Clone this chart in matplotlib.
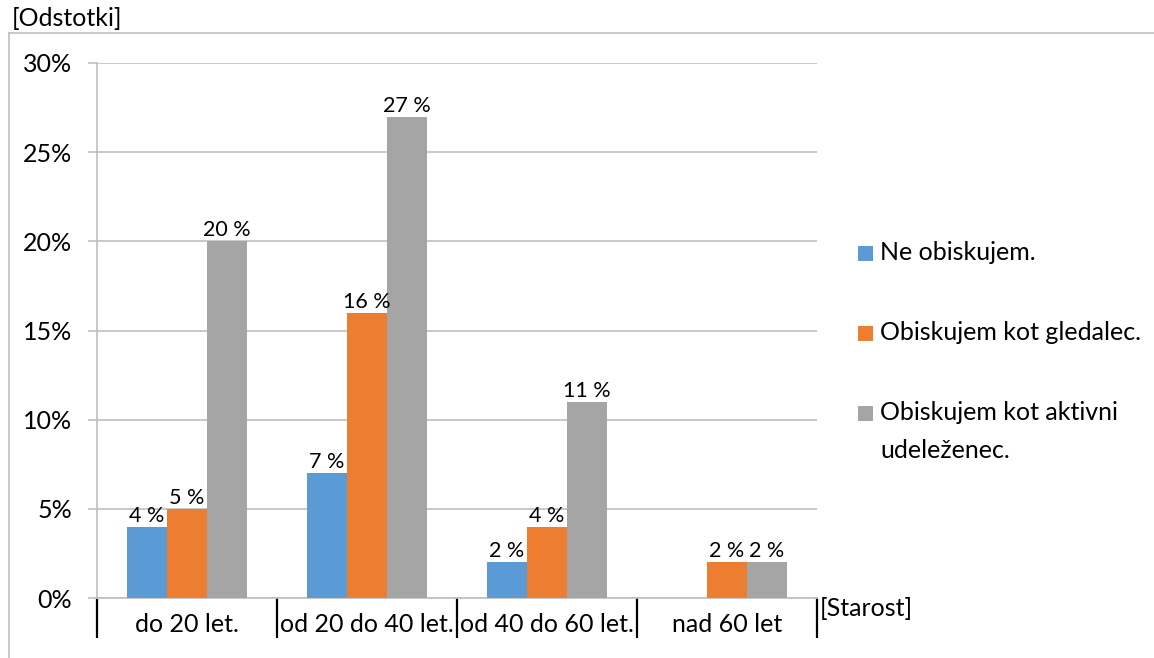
import numpy as np
import matplotlib.pyplot as plt
from matplotlib.lines import Line2D
from matplotlib.patches import Rectangle

plt.rcParams['font.family'] = ['Lato', 'DejaVu Sans']

# age groups and shares (in %) per answer
categories = ['do 20 let.', 'od 20 do 40 let.', 'od 40 do 60 let.', 'nad 60 let']
ne_obiskujem = [4, 7, 2, 0]
gledalec = [5, 16, 4, 2]
aktivni = [20, 27, 11, 2]
series_names = ['Ne obiskujem.', 'Obiskujem kot gledalec.',
                'Obiskujem kot aktivni\nudeleženec.']
colors = ['#5B9BD5', '#ED7D31', '#A5A5A5']

W, H = 1154, 658
fig = plt.figure(figsize=(W / 100, H / 100), dpi=100)
ax = fig.add_axes([97 / W, 1 - 598 / H, 720 / W, 535 / H])

x = np.arange(len(categories))
bw = 40 / 180
series = [ne_obiskujem, gledalec, aktivni]
for i, (vals, c) in enumerate(zip(series, colors)):
    pos = x + (i - 1) * bw
    ax.bar(pos, vals, width=bw, color=c, zorder=3)
    for p, v in zip(pos, vals):
        if v > 0:
            ax.text(p, v + 0.05, f'{v} %', ha='center', va='bottom', fontsize=15.5,
                    color='#000000', zorder=4)

ax.set_xlim(-0.5, len(categories) - 0.5)
ax.set_ylim(0, 30)
ax.set_yticks(np.arange(0, 31, 5))
ax.set_yticklabels([f'{v}%' for v in range(0, 31, 5)], fontsize=18)
ax.grid(axis='y', color='#BFBFBF', linewidth=1.2, zorder=0)
ax.tick_params(axis='y', length=6.5, width=1.2, color='#BFBFBF', pad=11.5)

# category boundaries as long black ticks, labels centred between them
ax.set_xticks(np.arange(-0.5, len(categories), 1))
ax.set_xticklabels([])
ax.set_xticks(x, minor=True)
ax.set_xticklabels(categories, minor=True, fontsize=18)
ax.tick_params(axis='x', which='major', length=29, width=1.6, color='black')
ax.tick_params(axis='x', which='minor', length=0, pad=11)

for s in ['top', 'right']:
    ax.spines[s].set_visible(False)
for s in ['left', 'bottom']:
    ax.spines[s].set_color('#BFBFBF')
    ax.spines[s].set_linewidth(1.2)

# outer chart frame (only top and left edge visible)
fig.add_artist(Line2D([9 / W, 1], [1 - 33 / H, 1 - 33 / H], color='#BFBFBF', lw=1.2))
fig.add_artist(Line2D([9 / W, 9 / W], [0, 1 - 33 / H], color='#BFBFBF', lw=1.2))

fig.text(12 / W, 1 - 18 / H, '[Odstotki]', fontsize=18, va='center', ha='left')
fig.text(820 / W, 1 - 609 / H, '[Starost]', fontsize=18, va='center', ha='left')

# legend on the right
leg_y = [253, 333, 413]
for name, c, yy in zip(series_names, colors, leg_y):
    fig.add_artist(Rectangle((858 / W, 1 - (yy + 7.5) / H), 15 / W, 15 / H,
                             facecolor=c, edgecolor='none'))
    for k, line in enumerate(name.split('\n')):
        fig.text(880 / W, 1 - (yy + 37 * k) / H, line, fontsize=18,
                 va='center', ha='left')

fig.savefig('out.png', dpi=100)
